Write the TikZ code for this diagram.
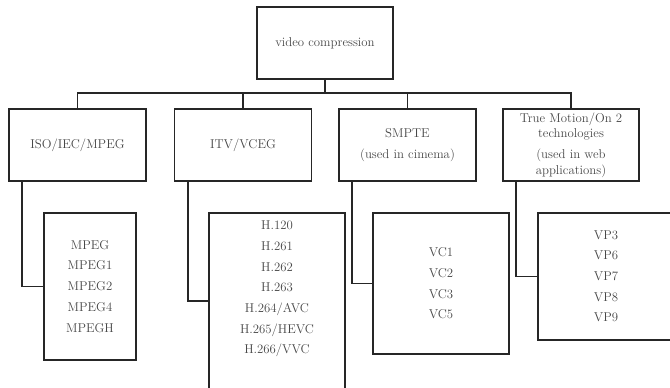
\documentclass[tikz,border=0pt]{standalone}

\def\bw{136}
\def\lw{1.6}
\def\hy{145}
\def\ky{212}
\def\tap{14}

\begin{document}
\begin{tikzpicture}[x=1pt,y=-1pt,mybox/.style={inner sep=0pt,rectangle,draw=black!85,line width=\lw pt,minimum width=\bw pt,align=center,text=black!72,font=\fontsize{12.8}{15.5}\selectfont},headbox/.style={mybox,minimum height=72pt},kidbox/.style={mybox,anchor=north,font=\fontsize{12.8}{20.7}\selectfont},listtext/.style={align=center,inner sep=0pt,text=black!72,font=\fontsize{12.8}{20.7}\selectfont},link/.style={draw=black!85,line width=\lw pt}]
			\useasboundingbox (0,0) rectangle (670,388);
			% top and first level
			\node[headbox] (root) at (325,43) {video compression};
			\node[headbox,minimum width=137pt] (iso) at (77.5,\hy) {ISO/IEC/MPEG};
			\node[headbox,minimum width=137pt] (itu) at (243,\hy) {ITV/VCEG};
			\node[headbox,minimum width=137pt] (smpte) at (407.5,\hy) {SMPTE\\[5.5pt](used in cimema)};
			\node[headbox] (onvp) at (571,\hy) {True Motion/On 2\\technologies\\[5.5pt](used in web\\applications)};
			\foreach \n in {iso,itu,smpte,onvp}
				\draw[link] (root.south) |- ([yshift=15pt]\n.north) -- (\n.north);
			% second level
			\node[kidbox,minimum width=92pt,minimum height=147pt] (mpeg) at (90,\ky) {MPEG\\MPEG1\\MPEG2\\MPEG4\\MPEGH};
			\node[kidbox,minimum height=180pt] (h26x) at (277,\ky) {};
			\node[listtext] (h26xlist) at (277,289) {H.120\\H.261\\H.262\\H.263\\H.264/AVC\\H.265/HEVC\\H.266/VVC};
			\node[kidbox,minimum height=141pt] (vcx) at (441,\ky) {VC1\\VC2\\VC3\\VC5};
			\node[kidbox,minimum height=127pt] (vpx) at (606,\ky) {VP3\\VP6\\VP7\\VP8\\VP9};
			\draw[link] ([xshift=\tap pt]iso.south west) |- (mpeg.west);
			\draw[link] ([xshift=\tap pt]itu.south west) |- ([yshift=2pt]h26x.west);
			\draw[link] ([xshift=\tap pt]smpte.south west) |- (vcx.west);
			\draw[link] ([xshift=\tap pt]onvp.south west) |- (vpx.west);
		\end{tikzpicture}
\end{document}
